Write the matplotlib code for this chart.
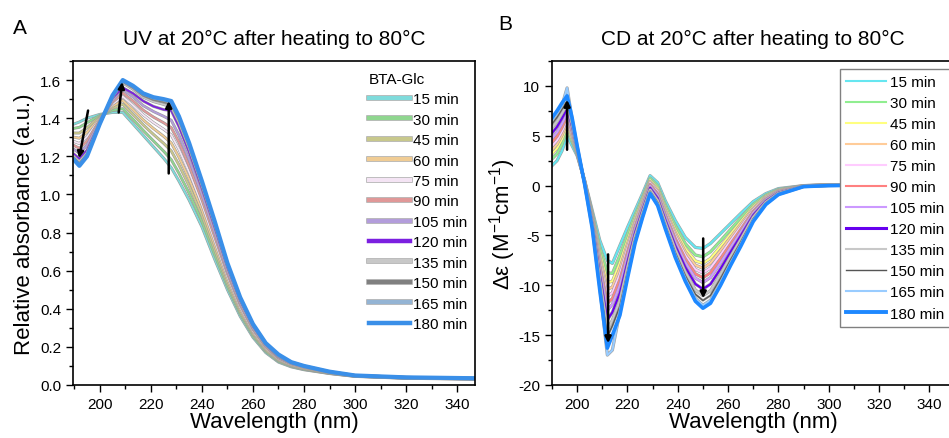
import matplotlib
matplotlib.use('Agg')
import matplotlib.pyplot as plt
import matplotlib.patheffects as pe
from matplotlib.lines import Line2D
from matplotlib.ticker import MultipleLocator

plt.rcParams['font.family'] = ['Liberation Sans', 'DejaVu Sans']
plt.rcParams['axes.unicode_minus'] = False
plt.rcParams['mathtext.fontset'] = 'custom'
plt.rcParams['mathtext.rm'] = 'Liberation Sans'
plt.rcParams['mathtext.it'] = 'Liberation Sans:italic'

times = ['15 min', '30 min', '45 min', '60 min', '75 min', '90 min',
         '105 min', '120 min', '135 min', '150 min', '165 min', '180 min']

# --- UV spectra (panel A) ---
wl_uv = [190, 192, 195, 200, 205, 209, 213, 217, 221, 225, 228, 231, 235,
         240, 245, 250, 255, 260, 265, 270, 275, 280, 290, 300, 320, 350]

uv_15 = [1.37, 1.38, 1.40, 1.42, 1.43, 1.43, 1.37, 1.31, 1.25, 1.19, 1.14, 1.07, 0.97,
         0.83, 0.66, 0.50, 0.36, 0.25, 0.17, 0.12, 0.095, 0.08, 0.06, 0.045, 0.035, 0.03]
uv_30 = [1.347, 1.352, 1.376, 1.414, 1.441, 1.450, 1.394, 1.336, 1.281, 1.227, 1.182, 1.111, 1.006,
         0.859, 0.684, 0.517, 0.372, 0.258, 0.176, 0.124, 0.098, 0.082, 0.061, 0.046, 0.036, 0.031]
uv_45 = [1.322, 1.322, 1.350, 1.407, 1.453, 1.473, 1.420, 1.365, 1.315, 1.268, 1.228, 1.155, 1.045,
         0.890, 0.710, 0.535, 0.385, 0.268, 0.183, 0.129, 0.101, 0.085, 0.062, 0.046, 0.036, 0.031]
uv_60 = [1.300, 1.295, 1.326, 1.401, 1.463, 1.493, 1.444, 1.391, 1.346, 1.305, 1.270, 1.196, 1.081,
         0.919, 0.734, 0.552, 0.397, 0.276, 0.189, 0.133, 0.104, 0.087, 0.064, 0.047, 0.037, 0.032]
uv_75 = [1.277, 1.267, 1.302, 1.395, 1.474, 1.513, 1.468, 1.418, 1.377, 1.342, 1.312, 1.237, 1.117,
         0.948, 0.758, 0.569, 0.409, 0.284, 0.195, 0.137, 0.107, 0.090, 0.065, 0.047, 0.037, 0.032]
uv_90 = [1.256, 1.242, 1.280, 1.390, 1.484, 1.532, 1.490, 1.442, 1.406, 1.376, 1.350, 1.274, 1.150,
         0.974, 0.780, 0.584, 0.420, 0.292, 0.200, 0.141, 0.110, 0.092, 0.066, 0.048, 0.038, 0.033]
uv_105 = [1.235, 1.217, 1.258, 1.384, 1.494, 1.551, 1.512, 1.466, 1.435, 1.410, 1.389, 1.311, 1.183,
          1.000, 0.802, 0.599, 0.431, 0.300, 0.206, 0.145, 0.113, 0.094, 0.067, 0.048, 0.038, 0.033]
uv_120 = [1.210, 1.187, 1.232, 1.378, 1.506, 1.560, 1.530, 1.490, 1.462, 1.445, 1.440, 1.356, 1.222,
          1.032, 0.828, 0.618, 0.444, 0.309, 0.212, 0.149, 0.116, 0.097, 0.068, 0.049, 0.039, 0.034]
uv_135 = [1.197, 1.171, 1.218, 1.374, 1.512, 1.585, 1.552, 1.510, 1.487, 1.472, 1.459, 1.379, 1.243,
          1.048, 0.842, 0.627, 0.451, 0.314, 0.216, 0.152, 0.118, 0.098, 0.069, 0.050, 0.040, 0.035]
uv_150 = [1.189, 1.161, 1.210, 1.372, 1.516, 1.592, 1.560, 1.519, 1.497, 1.485, 1.473, 1.393, 1.255,
          1.058, 0.850, 0.633, 0.455, 0.317, 0.218, 0.153, 0.119, 0.099, 0.069, 0.050, 0.040, 0.035]
uv_165 = [1.184, 1.155, 1.204, 1.371, 1.518, 1.597, 1.566, 1.526, 1.505, 1.494, 1.483, 1.403, 1.264,
          1.065, 0.856, 0.637, 0.458, 0.319, 0.219, 0.154, 0.120, 0.100, 0.070, 0.050, 0.040, 0.035]
uv_180 = [1.18, 1.15, 1.20, 1.37, 1.52, 1.60, 1.57, 1.53, 1.51, 1.50, 1.49, 1.41, 1.27,
          1.07, 0.86, 0.64, 0.46, 0.32, 0.22, 0.16, 0.12, 0.10, 0.07, 0.05, 0.04, 0.035]

uv_series = [uv_15, uv_30, uv_45, uv_60, uv_75, uv_90,
             uv_105, uv_120, uv_135, uv_150, uv_165, uv_180]

# --- CD spectra (panel B) ---
wl_cd = [190, 192, 194, 196, 198, 200, 203, 206, 209, 212, 214, 217, 220, 223, 226, 229, 232,
         235, 239, 243, 247, 250, 253, 257, 261, 265, 270, 275, 280, 290, 300, 320, 350]

cd_15 = [2.0, 2.5, 3.5, 5.0, 4.0, 3.0, 0.5, -2.5, -5.5, -7.5, -7.8, -6.0, -4.2, -2.5, -0.8, 1.0, 0.3,
         -1.5, -3.5, -5.2, -6.2, -6.3, -5.8, -4.8, -3.8, -2.8, -1.6, -0.8, -0.3, 0.0, 0.1, 0.1, 0.1]
cd_30 = [2.67, 3.2, 4.17, 5.56, 4.39, 3.14, 0.44, -2.75, -6.2, -8.73, -8.81, -6.98, -4.91, -2.96, -1.14, 0.75, -0.02,
         -1.89, -4.02, -5.82, -6.96, -7.14, -6.64, -5.53, -4.39, -3.26, -1.88, -0.95, -0.38, -0.01, 0.09, 0.1, 0.1]
cd_45 = [3.2, 3.75, 4.7, 6.0, 4.7, 3.25, 0.4, -2.95, -6.75, -9.7, -9.6, -7.75, -5.48, -3.33, -1.4, 0.55, -0.28,
         -2.2, -4.43, -6.3, -7.55, -7.8, -7.3, -6.1, -4.85, -3.63, -2.1, -1.08, -0.45, -0.03, 0.08, 0.1, 0.1]
cd_60 = [3.58, 4.15, 5.08, 6.32, 4.92, 3.33, 0.37, -3.09, -7.15, -10.4, -10.18, -8.31, -5.88, -3.59, -1.59, 0.41, -0.46,
         -2.42, -4.72, -6.65, -7.98, -8.28, -7.78, -6.52, -5.19, -3.89, -2.26, -1.16, -0.5, -0.03, 0.07, 0.1, 0.1]
cd_75 = [3.97, 4.55, 5.47, 6.64, 5.15, 3.41, 0.34, -3.24, -7.55, -11.11, -10.75, -8.87, -6.29, -3.85, -1.78, 0.26, -0.64,
         -2.65, -5.02, -7.0, -8.41, -8.76, -8.26, -6.93, -5.52, -4.15, -2.42, -1.25, -0.55, -0.04, 0.06, 0.1, 0.1]
cd_90 = [4.35, 4.95, 5.85, 6.96, 5.37, 3.49, 0.3, -3.38, -7.95, -11.81, -11.33, -9.43, -6.7, -4.12, -1.98, 0.12, -0.83,
         -2.87, -5.31, -7.36, -8.85, -9.24, -8.74, -7.35, -5.86, -4.42, -2.58, -1.34, -0.59, -0.05, 0.05, 0.1, 0.1]
cd_105 = [4.74, 5.35, 6.24, 7.28, 5.6, 3.57, 0.27, -3.53, -8.35, -12.52, -11.9, -9.99, -7.11, -4.38, -2.17, -0.03, -1.01,
          -3.1, -5.61, -7.71, -9.28, -9.72, -9.22, -7.76, -6.19, -4.68, -2.74, -1.43, -0.64, -0.06, 0.04, 0.1, 0.1]
cd_120 = [5.26, 5.9, 6.76, 7.72, 5.9, 3.68, 0.23, -3.72, -8.9, -13.48, -12.7, -10.76, -7.67, -4.74, -2.43, -0.22, -1.26,
          -3.4, -6.02, -8.19, -9.87, -10.38, -9.88, -8.34, -6.66, -5.04, -2.96, -1.55, -0.71, -0.07, 0.03, 0.1, 0.1]
cd_135 = [5.79, 6.45, 7.29, 8.16, 6.21, 3.79, 0.18, -3.92, -9.45, -14.45, -13.49, -11.53, -8.23, -5.11, -2.7, -0.42, -1.52,
          -3.71, -6.42, -8.68, -10.47, -11.04, -10.54, -8.91, -7.12, -5.41, -3.18, -1.67, -0.77, -0.08, 0.02, 0.1, 0.1]
cd_150 = [6.18, 6.85, 7.68, 8.48, 6.44, 3.87, 0.15, -4.07, -9.85, -15.16, -14.06, -12.09, -8.64, -5.37, -2.89, -0.57, -1.7,
          -3.94, -6.72, -9.03, -10.9, -11.52, -11.02, -9.32, -7.45, -5.67, -3.34, -1.76, -0.82, -0.09, 0.01, 0.1, 0.1]
cd_165 = [6.56, 7.25, 8.06, 9.8, 6.66, 3.95, 0.12, -4.21, -10.25, -17.0, -16.5, -12.65, -9.05, -5.64, -3.08, -0.71, -1.89,
          -4.16, -7.02, -9.38, -11.33, -12.0, -11.5, -9.74, -7.79, -5.94, -3.5, -1.85, -0.87, -0.1, 0.0, 0.1, 0.1]
cd_180 = [6.8, 7.5, 8.3, 9.0, 6.8, 4.0, 0.1, -4.3, -10.5, -16.3, -15.0, -13.0, -9.3, -5.8, -3.2, -0.8, -2.0,
          -4.3, -7.2, -9.6, -11.6, -12.3, -11.8, -10.0, -8.0, -6.1, -3.6, -1.9, -0.9, -0.1, 0.0, 0.05, 0.05]

cd_series = [cd_15, cd_30, cd_45, cd_60, cd_75, cd_90,
             cd_105, cd_120, cd_135, cd_150, cd_165, cd_180]

uv_colors = ['#7fdbdb', '#8fd68f', '#c8c88c', '#f0cc94', '#f4e4f4', '#e09898',
             '#b39ddb', '#7b1fe0', '#c8c8c8', '#808080', '#94b4d4', '#3a8fe8']
cd_colors = ['#66e6f0', '#90ee90', '#ffff80', '#ffcc99', '#ffccff', '#ff8080',
             '#cc99ff', '#6600ee', '#c8c8c8', '#555555', '#99ccff', '#1e88ff']

fig = plt.figure(figsize=(9.49, 4.39), dpi=100)
axA = fig.add_axes([73 / 949, 1 - 386 / 439, 402 / 949, 324 / 439])
axB = fig.add_axes([552 / 949, 1 - 386 / 439, 402.5 / 949, 324 / 439])

# panel A curves
for i, (y, c) in enumerate(zip(uv_series, uv_colors)):
    if i == 11:
        axA.plot(wl_uv, y, color=c, lw=3.0)
    else:
        lw = 1.3
        axA.plot(wl_uv, y, color=c, lw=lw,
                 path_effects=[pe.Stroke(linewidth=lw + 0.8, foreground='#9a9a9a'), pe.Normal()])

arrow = dict(arrowstyle='-|>', color='k', lw=1.8, mutation_scale=9, shrinkA=0, shrinkB=0)
axA.annotate('', xy=(191.9, 1.19), xytext=(195.4, 1.44), arrowprops=arrow)
axA.annotate('', xy=(208.8, 1.59), xytext=(207.4, 1.43), arrowprops=arrow)
axA.annotate('', xy=(227.0, 1.49), xytext=(227.0, 1.11), arrowprops=arrow)

axA.set_xlim(189.5, 347)
axA.set_ylim(0, 1.7)

handlesA = []
for i, c in enumerate(uv_colors):
    if i in (7, 11):
        handlesA.append(Line2D([], [], color=c, lw=3.2))
    else:
        handlesA.append(Line2D([], [], color=c, lw=3.0,
                               path_effects=[pe.Stroke(linewidth=4.0, foreground='#a8a8a8'), pe.Normal()]))
legA = axA.legend(handlesA, times, title='BTA-Glc', loc='upper left', bbox_to_anchor=(0.72, 0.985),
                  frameon=False, fontsize=11, title_fontsize=11, handlelength=2.7,
                  handletextpad=0.2, labelspacing=0.42, alignment='left', borderaxespad=0)

# panel B curves
for i, (y, c) in enumerate(zip(cd_series, cd_colors)):
    if i == 11:
        axB.plot(wl_cd, y, color=c, lw=2.6)
    else:
        lw = 1.5 if i != 9 else 0.9
        axB.plot(wl_cd, y, color=c, lw=lw,
                 path_effects=[pe.Stroke(linewidth=lw + 0.8, foreground='#a0a0a0'), pe.Normal()])

axB.annotate('', xy=(196.0, 8.6), xytext=(196.0, 3.6), arrowprops=arrow)
axB.annotate('', xy=(212.3, -15.8), xytext=(212.3, -6.9), arrowprops=arrow)
axB.annotate('', xy=(250.1, -11.3), xytext=(250.1, -5.3), arrowprops=arrow)

axB.set_xlim(190, 350)
axB.set_ylim(-20, 12.5)

handlesB = []
for i, c in enumerate(cd_colors):
    lw = 1.5
    if i == 7:
        lw = 2.2
    elif i == 9:
        lw = 1.0
    elif i == 11:
        lw = 2.8
    handlesB.append(Line2D([], [], color=c, lw=lw))
legB = axB.legend(handlesB, times, loc='upper left', bbox_to_anchor=(0.7156, 0.975),
                  frameon=True, fancybox=False, framealpha=1, edgecolor='#808080',
                  fontsize=11, handlelength=2.6, handletextpad=0.25, labelspacing=0.46,
                  borderaxespad=0, borderpad=0.4)
legB.get_frame().set_linewidth(1.0)

for ax in (axA, axB):
    ax.xaxis.set_major_locator(MultipleLocator(20))
    ax.xaxis.set_minor_locator(MultipleLocator(10))
    ax.tick_params(which='major', direction='out', length=5, width=1, labelsize=11,
                   top=False, right=False)
    ax.tick_params(which='minor', direction='out', length=3, width=1, top=False, right=False)
    for s in ax.spines.values():
        s.set_linewidth(1.2)
    ax.set_xlabel('Wavelength (nm)', fontsize=16, labelpad=0)

axA.yaxis.set_major_locator(MultipleLocator(0.2))
axA.yaxis.set_minor_locator(MultipleLocator(0.1))
axA.yaxis.set_major_formatter(matplotlib.ticker.FormatStrFormatter('%.1f'))
axB.yaxis.set_major_locator(MultipleLocator(5))
axB.yaxis.set_minor_locator(MultipleLocator(2.5))

axA.set_ylabel('Relative absorbance (a.u.)', fontsize=16, labelpad=4)
axB.set_ylabel(r'Δε (M$^{\mathregular{-1}}$cm$^{\mathregular{-1}}$)', fontsize=16, labelpad=0)

axA.set_title('UV at 20°C after heating to 80°C', fontsize=15, pad=12)
axB.set_title('CD at 20°C after heating to 80°C', fontsize=15, pad=12)

fig.text(13 / 949, 1 - 28 / 439, 'A', fontsize=15, va='center')
fig.text(498 / 949, 1 - 25 / 439, 'B', fontsize=15, va='center')

fig.savefig('out.png', dpi=100)
